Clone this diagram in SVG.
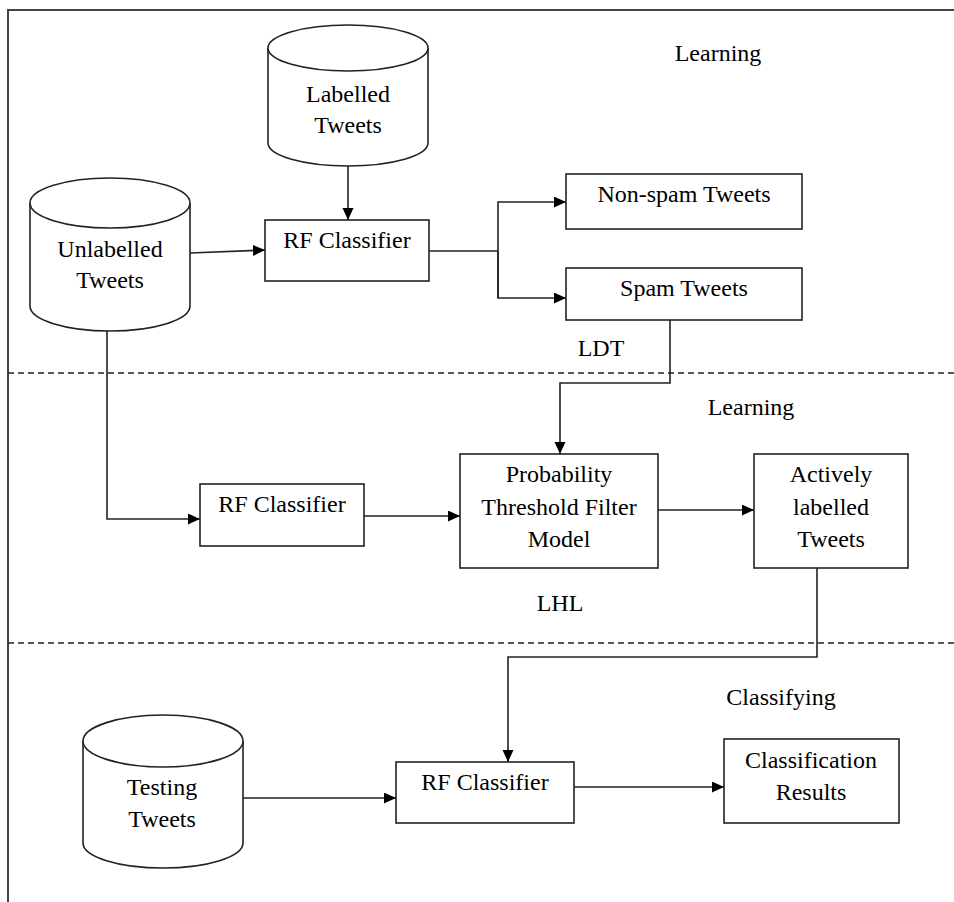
<svg xmlns="http://www.w3.org/2000/svg" width="954" height="902" viewBox="0 0 954 902">
<defs>
<marker id="ah" markerWidth="14" markerHeight="14" refX="12" refY="5.5" orient="auto" markerUnits="userSpaceOnUse">
<path d="M0,0 L12,5.5 L0,11 Z" fill="#000"/>
</marker>
<style>
.t{font-family:"Liberation Serif","Times New Roman",serif;font-size:24px;fill:#000;text-anchor:middle}
.n{fill:#fff;stroke:#222;stroke-width:1.6}
.c{fill:none;stroke:#222;stroke-width:1.6}
.d{fill:none;stroke:#222;stroke-width:1.5;stroke-dasharray:6 4}
</style>
</defs>
<rect width="954" height="902" fill="#fff"/>
<path d="M8,902 V10 H954" fill="none" stroke="#444" stroke-width="2"/>
<g id="separators">
<line class="d" x1="8" y1="373" x2="954" y2="373"/>
<line class="d" x1="8" y1="643" x2="954" y2="643"/>
</g>
<g id="labels">
<text class="t" x="718" y="61">Learning</text>
<text class="t" x="601" y="356">LDT</text>
<text class="t" x="751" y="415">Learning</text>
<text class="t" x="560" y="611">LHL</text>
<text class="t" x="781" y="705">Classifying</text>
</g>
<g id="connectors">
<line class="c" x1="348" y1="166" x2="348" y2="220" marker-end="url(#ah)"/>
<line class="c" x1="190" y1="253" x2="265" y2="250" marker-end="url(#ah)"/>
<polyline class="c" points="429,251 498,251"/>
<polyline class="c" points="498,298 498,202 566,202" marker-end="url(#ah)"/>
<polyline class="c" points="498,251 498,298 566,298" marker-end="url(#ah)"/>
<polyline class="c" points="670,320 670,383 560,383 560,454" marker-end="url(#ah)"/>
<polyline class="c" points="107,331 107,519 200,519" marker-end="url(#ah)"/>
<line class="c" x1="364" y1="516" x2="460" y2="516" marker-end="url(#ah)"/>
<line class="c" x1="658" y1="510" x2="754" y2="510" marker-end="url(#ah)"/>
<polyline class="c" points="817,568 817,657 508,657 508,762" marker-end="url(#ah)"/>
<line class="c" x1="243" y1="798" x2="396" y2="798" marker-end="url(#ah)"/>
<line class="c" x1="574" y1="787" x2="724" y2="787" marker-end="url(#ah)"/>
</g>
<g id="labelled-tweets">
<path class="n" d="M268,48 V143 A80,23 0 0 0 428,143 V48"/>
<ellipse class="n" cx="348" cy="48" rx="80" ry="23"/>
<text class="t" x="348" y="102">Labelled</text>
<text class="t" x="348" y="133">Tweets</text>
</g>
<g id="unlabelled-tweets">
<path class="n" d="M30,203 V306 A80,25 0 0 0 190,306 V203"/>
<ellipse class="n" cx="110" cy="203" rx="80" ry="25"/>
<text class="t" x="110" y="257">Unlabelled</text>
<text class="t" x="110" y="288">Tweets</text>
</g>
<g id="rf-classifier-1">
<rect class="n" x="265" y="220" width="164" height="61"/>
<text class="t" x="347" y="248">RF Classifier</text>
</g>
<g id="non-spam-tweets">
<rect class="n" x="566" y="174" width="236" height="55"/>
<text class="t" x="684" y="202">Non-spam Tweets</text>
</g>
<g id="spam-tweets">
<rect class="n" x="566" y="268" width="236" height="52"/>
<text class="t" x="684" y="296">Spam Tweets</text>
</g>
<g id="rf-classifier-2">
<rect class="n" x="200" y="484" width="164" height="62"/>
<text class="t" x="282" y="512">RF Classifier</text>
</g>
<g id="probability-threshold-filter-model">
<rect class="n" x="460" y="454" width="198" height="114"/>
<text class="t" x="559" y="482">Probability</text>
<text class="t" x="559" y="515">Threshold Filter</text>
<text class="t" x="559" y="547">Model</text>
</g>
<g id="actively-labelled-tweets">
<rect class="n" x="754" y="454" width="154" height="114"/>
<text class="t" x="831" y="482">Actively</text>
<text class="t" x="831" y="515">labelled</text>
<text class="t" x="831" y="547">Tweets</text>
</g>
<g id="testing-tweets">
<path class="n" d="M83,741 V843 A80,25 0 0 0 243,843 V741"/>
<ellipse class="n" cx="163" cy="741" rx="80" ry="26"/>
<text class="t" x="162" y="795">Testing</text>
<text class="t" x="162" y="827">Tweets</text>
</g>
<g id="rf-classifier-3">
<rect class="n" x="396" y="762" width="178" height="61"/>
<text class="t" x="485" y="790">RF Classifier</text>
</g>
<g id="classification-results">
<rect class="n" x="724" y="739" width="175" height="84"/>
<text class="t" x="811" y="768">Classification</text>
<text class="t" x="811" y="800">Results</text>
</g>
</svg>
